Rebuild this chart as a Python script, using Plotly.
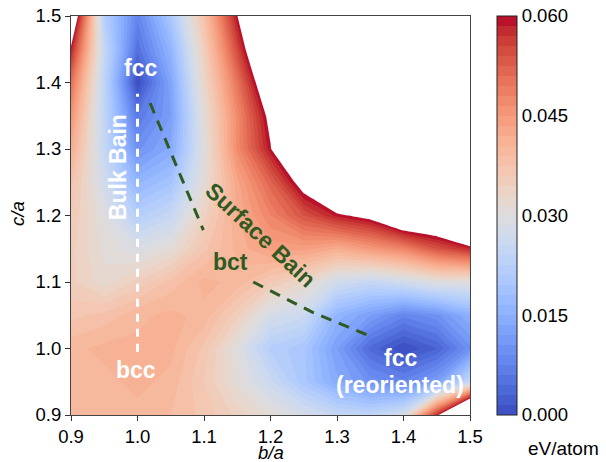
import plotly.graph_objects as go

# ---------------- data ----------------
b_over_a = [0.90, 0.95, 1.00, 1.05, 1.10, 1.15, 1.20, 1.25, 1.30, 1.35, 1.40, 1.45, 1.50]
c_over_a = [0.90, 0.95, 1.00, 1.05, 1.10, 1.15, 1.20, 1.25, 1.30, 1.35, 1.40, 1.45, 1.50]

# energy (eV/atom), one row per c/a value (ascending), columns follow b/a
e_090 = [0.039, 0.040, 0.040, 0.039, 0.037, 0.034, 0.031, 0.028, 0.025, 0.024, 0.028, 0.058, 0.095]
e_095 = [0.039, 0.040, 0.041, 0.040, 0.036, 0.031, 0.026, 0.020, 0.014, 0.010, 0.008, 0.012, 0.025]
e_100 = [0.040, 0.041, 0.041, 0.041, 0.037, 0.030, 0.022, 0.020, 0.012, 0.004, 0.000, 0.003, 0.010]
e_105 = [0.037, 0.038, 0.040, 0.041, 0.040, 0.035, 0.028, 0.026, 0.016, 0.012, 0.008, 0.010, 0.015]
e_110 = [0.035, 0.032, 0.035, 0.038, 0.041, 0.040, 0.036, 0.033, 0.027, 0.025, 0.027, 0.030, 0.030]
e_115 = [0.035, 0.031, 0.029, 0.031, 0.037, 0.041, 0.044, 0.044, 0.042, 0.045, 0.048, 0.054, 0.058]
e_120 = [0.036, 0.030, 0.022, 0.025, 0.034, 0.042, 0.048, 0.054, 0.059, 0.062, 0.070, 0.070, 0.085]
e_125 = [0.038, 0.027, 0.016, 0.019, 0.031, 0.043, 0.052, 0.063, 0.075, 0.085, 0.090, 0.095, 0.100]
e_130 = [0.042, 0.025, 0.010, 0.014, 0.030, 0.047, 0.0595, 0.085, 0.095, 0.100, 0.100, 0.100, 0.100]
e_135 = [0.046, 0.024, 0.006, 0.012, 0.031, 0.047, 0.062, 0.090, 0.100, 0.100, 0.100, 0.100, 0.100]
e_140 = [0.051, 0.024, 0.000, 0.013, 0.033, 0.050, 0.068, 0.095, 0.100, 0.100, 0.100, 0.100, 0.100]
e_145 = [0.059, 0.025, 0.005, 0.016, 0.035, 0.055, 0.075, 0.100, 0.100, 0.100, 0.100, 0.100, 0.100]
e_150 = [0.070, 0.022, 0.008, 0.020, 0.038, 0.0598, 0.090, 0.100, 0.100, 0.100, 0.100, 0.100, 0.100]
energy = [e_090, e_095, e_100, e_105, e_110, e_115, e_120, e_125, e_130, e_135, e_140, e_145, e_150]

cbar_ticks = [0.0, 0.015, 0.030, 0.045, 0.060]
cbar_labels = ["0.000", "0.015", "0.030", "0.045", "0.060"]
axis_ticks = [0.9, 1.0, 1.1, 1.2, 1.3, 1.4, 1.5]

# paths drawn on the map
bulk_x = [1.0, 1.0]
bulk_y = [0.995, 1.383]
surf_x = [1.019, 1.099, None, 1.174, 1.262, 1.354]
surf_y = [1.369, 1.178, None, 1.100, 1.055, 1.017]

# ---------------- colours ----------------
coolwarm = [(59, 76, 192), (68, 90, 204), (77, 104, 215), (87, 117, 225), (98, 130, 234),
            (108, 142, 241), (119, 154, 247), (130, 165, 251), (141, 176, 254), (152, 185, 255),
            (163, 194, 255), (174, 201, 253), (184, 208, 249), (194, 213, 244), (204, 217, 238),
            (213, 219, 230), (221, 221, 221), (229, 216, 209), (236, 211, 197), (241, 204, 185),
            (245, 196, 173), (247, 187, 160), (247, 177, 148), (247, 166, 135), (244, 154, 123),
            (241, 141, 111), (236, 127, 99), (229, 112, 88), (222, 96, 77), (213, 80, 66),
            (203, 62, 56), (192, 40, 47), (180, 4, 38)]


def cw(f):
    p = f * (len(coolwarm) - 1)
    i = min(int(p), len(coolwarm) - 2)
    t = p - i
    a, b = coolwarm[i], coolwarm[i + 1]
    return "rgb(%d,%d,%d)" % tuple(round(a[j] + (b[j] - a[j]) * t) for j in range(3))


ZMAX = 0.06
STEP = 0.0015
nb = 40
band_cols = [cw((k + 0.5) / nb) for k in range(nb)]

# contour fill: band k is coloured at (k+1)/(nb+1); region above top level -> white
scale = [[0.0, band_cols[0]]]
for k in range(nb):
    scale.append([(k + 1) / (nb + 1), band_cols[k]])
scale.append([(nb + 0.5) / (nb + 1), "rgb(255,255,255)"])
scale.append([1.0, "rgb(255,255,255)"])

# stepped scale for the colour bar
bar_scale = []
for k in range(nb):
    bar_scale.append([k / nb, band_cols[k]])
    bar_scale.append([(k + 1) / nb, band_cols[k]])

FONT = "Liberation Sans, Arial, sans-serif"

fig = go.Figure()
fig.add_trace(go.Contour(
    x=b_over_a, y=c_over_a, z=energy,
    colorscale=scale, showscale=False,
    autocontour=False,
    contours=dict(start=0.0, end=ZMAX, size=STEP, coloring="fill", showlines=False),
    line=dict(width=0, smoothing=0),
    hoverinfo="skip",
))

# colour-bar carrier (drawn outside the visible axis range)
fig.add_trace(go.Heatmap(
    x=[10, 11], y=[10, 11], z=[[0.0, ZMAX], [0.0, ZMAX]],
    zmin=0.0, zmax=ZMAX, colorscale=bar_scale, hoverinfo="skip",
    colorbar=dict(
        x=(497 - 71) / 399, xanchor="left", xpad=0, ypad=0,
        y=0.5, yanchor="middle", len=1.0, lenmode="fraction",
        thickness=20, outlinewidth=1, outlinecolor="#222",
        tickvals=cbar_ticks, ticktext=cbar_labels, ticks="",
        tickfont=dict(family=FONT, size=18.5, color="black"),
    ),
))

fig.add_trace(go.Scatter(x=bulk_x, y=bulk_y, mode="lines", hoverinfo="skip", showlegend=False,
                         line=dict(color="white", width=3, dash="8px,7px")))
fig.add_trace(go.Scatter(x=surf_x, y=surf_y, mode="lines", hoverinfo="skip", showlegend=False,
                         connectgaps=False,
                         line=dict(color="#2f5a22", width=3, dash="11px,8px")))

white = dict(family=FONT, size=23, color="white")
green = dict(family=FONT, size=23, color="#2f5a22")
ann = [
    dict(x=1.004, y=1.422, text="<b>fcc</b>", font=white),
    dict(x=0.970, y=1.272, text="<b>Bulk Bain</b>", font=white, textangle=-90),
    dict(x=0.997, y=0.967, text="<b>bcc</b>", font=white),
    dict(x=1.140, y=1.130, text="<b>bct</b>", font=green),
    dict(x=1.185, y=1.170, text="<b>Surface Bain</b>", font=green, textangle=43),
    dict(x=1.395, y=0.986, text="<b>fcc</b>", font=white),
    dict(x=1.395, y=0.945, text="<b>(reoriented)</b>", font=white),
]
for a in ann:
    a.update(xref="x", yref="y", showarrow=False, xanchor="center", yanchor="middle")
    fig.add_annotation(**a)

fig.add_annotation(x=0.5, y=(415 - 452) / 399, xref="paper", yref="paper", text="<i>b/a</i>",
                   showarrow=False, font=dict(family=FONT, size=18.5, color="black"),
                   xanchor="center", yanchor="middle")
fig.add_annotation(x=(17 - 71) / 399, y=(415 - 214) / 399, xref="paper", yref="paper", text="<i>c/a</i>",
                   showarrow=False, textangle=-90, font=dict(family=FONT, size=18.5, color="black"),
                   xanchor="center", yanchor="middle")
fig.add_annotation(x=(563 - 71) / 399, y=(415 - 449) / 399, xref="paper", yref="paper", text="eV/atom",
                   showarrow=False, font=dict(family=FONT, size=19, color="black"),
                   xanchor="center", yanchor="middle")

axis_common = dict(
    tickvals=axis_ticks, tickformat=".1f", ticks="outside", ticklen=5, tickwidth=1,
    tickcolor="#333", showline=True, linecolor="#444", linewidth=1, mirror=True,
    showgrid=False, zeroline=False, tickfont=dict(family=FONT, size=18.5, color="black"),
)
fig.update_xaxes(range=[0.9, 1.5], **axis_common)
fig.update_yaxes(range=[0.9, 1.5], **axis_common)

fig.update_layout(
    width=606, height=462,
    margin=dict(l=71, r=136, t=16, b=47, autoexpand=False),
    plot_bgcolor="white", paper_bgcolor="white",
    showlegend=False,
)

fig.write_html(
    "out.html",
    config={"displayModeBar": False},
    post_script="document.body.style.margin='0';document.body.style.padding='0';"
                "document.body.style.overflow='hidden';",
)
